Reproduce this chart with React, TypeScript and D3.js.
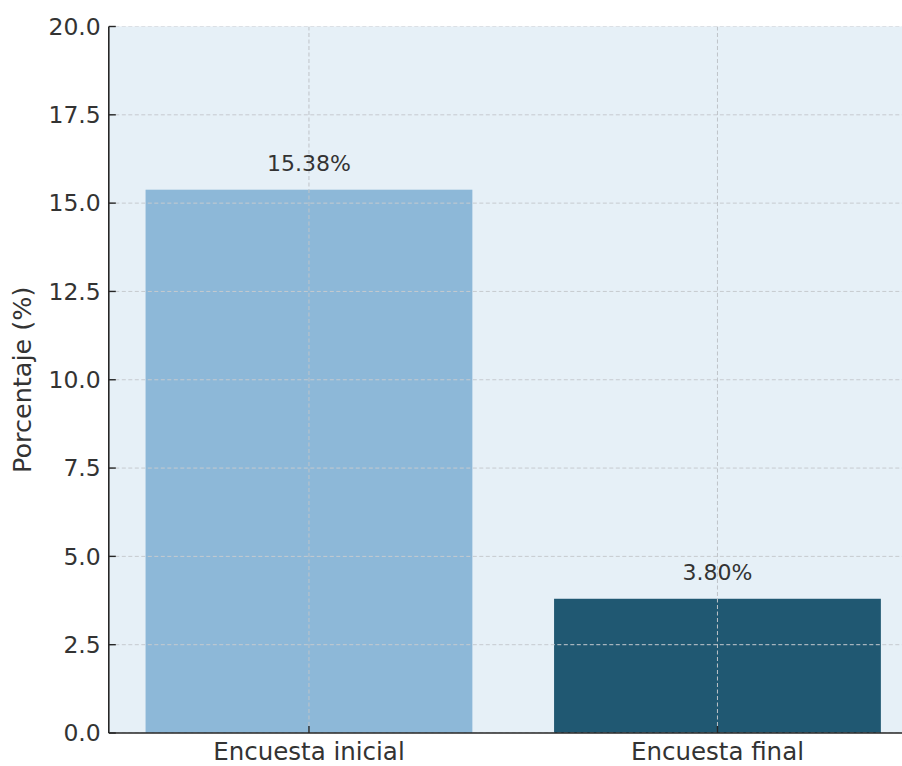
import React from "react";
import * as d3 from "d3";

// Survey results: share of respondents (%) in each survey round
const categories: string[] = ["Encuesta inicial", "Encuesta final"];
const values: number[] = [15.38, 3.8];
const barColors: string[] = ["#8db8d8", "#205872"];
const yTicks: number[] = [0, 2.5, 5, 7.5, 10, 12.5, 15, 17.5, 20];

const W = 902;
const H = 766;
const left = 108.8;
const top = 26.5;
const bottom = 733;
const bandStep = 408.5;

export default function App() {
  // categorical positions as numeric indices, with bar-chart style margins
  const x = d3
    .scaleLinear()
    .domain([-0.49, 1.49])
    .range([left, left + 1.98 * bandStep]);
  const y = d3.scaleLinear().domain([0, 20]).range([bottom, top]);
  const barWidth = 0.8;
  const textColor = "#333333";
  const font = "DejaVu Sans, sans-serif";

  return (
    <svg
      width={W}
      height={H}
      style={{ position: "absolute", left: 0, top: 0, background: "#ffffff" }}
      fontFamily={font}
    >
      <defs>
        <clipPath id="plot-clip">
          <rect x={left} y={top} width={W - left} height={bottom - top} />
        </clipPath>
      </defs>
      <rect
        x={left}
        y={top}
        width={W - left}
        height={bottom - top}
        fill="#e6f0f7"
      />
      <g clipPath="url(#plot-clip)">
        {values.map((v, i) => (
          <rect
            key={categories[i]}
            x={x(i - barWidth / 2)}
            y={y(v)}
            width={x(i + barWidth / 2) - x(i - barWidth / 2)}
            height={y(0) - y(v)}
            fill={barColors[i]}
          />
        ))}
        {/* dashed grid drawn over the bars */}
        {yTicks.map((t) => (
          <line
            key={"gy" + t}
            x1={left}
            x2={W}
            y1={y(t)}
            y2={y(t)}
            stroke="#c6cacf"
            strokeWidth={1}
            strokeDasharray="4,2.5"
          />
        ))}
        {categories.map((c, i) => (
          <line
            key={"gx" + c}
            x1={x(i)}
            x2={x(i)}
            y1={top}
            y2={bottom}
            stroke="#bfc3c8"
            strokeWidth={1}
            strokeDasharray="4,2.5"
          />
        ))}
      </g>
      {/* value labels */}
      {values.map((v, i) => (
        <text
          key={"lbl" + i}
          x={x(i)}
          y={y(v) - 19}
          textAnchor="middle"
          fontSize={22}
          fill={textColor}
        >
          {v.toFixed(2) + "%"}
        </text>
      ))}
      {/* axes */}
      <line x1={left} x2={left} y1={top} y2={bottom} stroke="#262626" strokeWidth={1.6} />
      <line x1={left} x2={W} y1={bottom} y2={bottom} stroke="#262626" strokeWidth={1.6} />
      {yTicks.map((t) => (
        <g key={"ty" + t}>
          <line x1={left} x2={left + 7} y1={y(t)} y2={y(t)} stroke="#262626" strokeWidth={1.4} />
          <text
            x={left - 8}
            y={y(t)}
            dy="0.35em"
            textAnchor="end"
            fontSize={23.5}
            fill={textColor}
          >
            {t.toFixed(1)}
          </text>
        </g>
      ))}
      {categories.map((c, i) => (
        <g key={"tx" + c}>
          <line x1={x(i)} x2={x(i)} y1={bottom} y2={bottom - 7} stroke="#262626" strokeWidth={1.4} />
          <text
            x={x(i)}
            y={760}
            textAnchor="middle"
            fontSize={24.5}
            fill={textColor}
          >
            {c}
          </text>
        </g>
      ))}
      <text
        transform={`translate(31, ${(top + bottom) / 2}) rotate(-90)`}
        textAnchor="middle"
        fontSize={25.5}
        fill={textColor}
      >
        Porcentaje (%)
      </text>
    </svg>
  );
}
